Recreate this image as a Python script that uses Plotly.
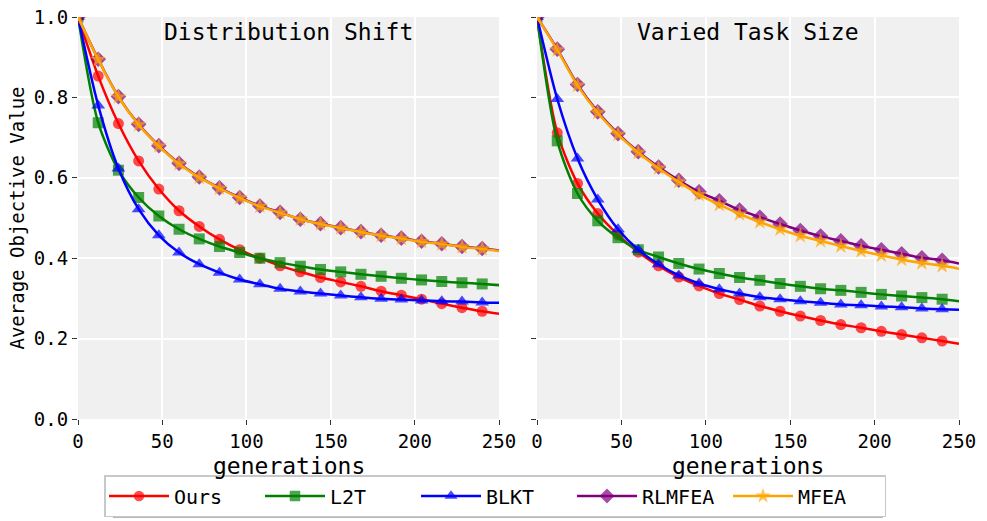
import plotly.graph_objects as go

generations = [0, 12, 24, 36, 48, 60, 72, 84, 96, 108, 120, 132, 144, 156, 168,
               180, 192, 204, 216, 228, 240, 250]

methods = ["Ours", "L2T", "BLKT", "RLMFEA", "MFEA"]

# Distribution Shift panel
ds_ours = [1.0, 0.853, 0.735, 0.642, 0.572, 0.518, 0.479, 0.447, 0.421, 0.400, 0.381,
           0.366, 0.352, 0.341, 0.330, 0.318, 0.308, 0.298, 0.287, 0.277, 0.268, 0.262]
ds_l2t = [1.0, 0.737, 0.619, 0.551, 0.505, 0.472, 0.448, 0.429, 0.414, 0.400, 0.389,
          0.380, 0.372, 0.366, 0.360, 0.355, 0.350, 0.346, 0.342, 0.339, 0.336, 0.333]
ds_blkt = [1.0, 0.780, 0.623, 0.522, 0.457, 0.414, 0.385, 0.364, 0.347, 0.335, 0.324,
           0.317, 0.312, 0.307, 0.303, 0.299, 0.297, 0.295, 0.293, 0.292, 0.290, 0.289]
ds_rlmfea = [1.0, 0.895, 0.802, 0.733, 0.680, 0.636, 0.602, 0.575, 0.551, 0.530, 0.514,
             0.497, 0.486, 0.476, 0.466, 0.457, 0.450, 0.442, 0.436, 0.429, 0.424, 0.419]
ds_mfea = [1.0, 0.894, 0.801, 0.732, 0.679, 0.635, 0.601, 0.574, 0.550, 0.529, 0.513,
           0.497, 0.485, 0.475, 0.465, 0.456, 0.449, 0.441, 0.435, 0.428, 0.423, 0.418]

# Varied Task Size panel
vt_ours = [1.0, 0.712, 0.586, 0.511, 0.458, 0.415, 0.381, 0.353, 0.331, 0.312, 0.297,
           0.281, 0.268, 0.256, 0.245, 0.235, 0.227, 0.218, 0.210, 0.202, 0.194, 0.187]
vt_l2t = [1.0, 0.692, 0.561, 0.493, 0.451, 0.421, 0.403, 0.387, 0.373, 0.362, 0.352,
          0.345, 0.337, 0.330, 0.324, 0.320, 0.315, 0.310, 0.306, 0.302, 0.298, 0.293]
vt_blkt = [1.0, 0.796, 0.648, 0.546, 0.472, 0.421, 0.385, 0.357, 0.337, 0.323, 0.312,
           0.303, 0.298, 0.293, 0.289, 0.285, 0.283, 0.280, 0.278, 0.275, 0.273, 0.272]
vt_rlmfea = [1.0, 0.920, 0.832, 0.764, 0.710, 0.665, 0.627, 0.594, 0.565, 0.543, 0.520,
             0.502, 0.485, 0.469, 0.455, 0.443, 0.431, 0.421, 0.411, 0.401, 0.395, 0.387]
vt_mfea = [1.0, 0.918, 0.830, 0.762, 0.708, 0.663, 0.624, 0.590, 0.558, 0.533, 0.510,
           0.490, 0.472, 0.456, 0.443, 0.430, 0.418, 0.407, 0.397, 0.388, 0.381, 0.374]

panel_titles = ["Distribution Shift", "Varied Task Size"]
x_label = "generations"
y_label = "Average Objective Value"
x_ticks = [0, 50, 100, 150, 200, 250]
y_ticks = [0.0, 0.2, 0.4, 0.6, 0.8, 1.0]

colors = ["#ff0000", "#008000", "#0000ff", "#800080", "#ffa500"]
symbols = ["circle", "square", "triangle-up", "diamond", "star"]
FONT = "DejaVu Sans Mono"

panels = [
    [ds_ours, ds_l2t, ds_blkt, ds_rlmfea, ds_mfea],
    [vt_ours, vt_l2t, vt_blkt, vt_rlmfea, vt_mfea],
]

base_size = {"circle": 11, "square": 11, "triangle-up": 12, "diamond": 12, "star": 12}

fig = go.Figure()
for p, series in enumerate(panels):
    xa = "x" if p == 0 else "x2"
    ya = "y" if p == 0 else "y2"
    for i, (name, vals) in enumerate(zip(methods, series)):
        # markers every 12 generations; the final point (250) is line-only
        sizes = [base_size[symbols[i]]] * (len(generations) - 1) + [0]
        fig.add_trace(go.Scatter(
            x=generations, y=vals, name=name, xaxis=xa, yaxis=ya,
            mode="lines+markers",
            line=dict(color=colors[i], width=2.5, shape="spline", smoothing=0.8),
            marker=dict(color=colors[i], symbol=symbols[i], size=sizes,
                        line=dict(width=0)),
            showlegend=(p == 0), legendgroup=name,
        ))

axis_common = dict(
    showgrid=True, gridcolor="white", gridwidth=1.5, zeroline=False,
    showline=False, ticks="outside", ticklen=5, tickcolor="#333333",
    tickfont=dict(family=FONT, size=19, color="black"), automargin=False,
)

W, H = 987, 521
ML, MR, MT, MB = 78, 28, 17, 102
PW, PH = W - ML - MR, H - MT - MB

# legend box in pixels (from the reference)
LG_L, LG_R, LG_T, LG_B = 110, 880, 475, 515
SH = 3  # shadow offset
XLABEL_TOP = 451  # pixel row where the x-axis label box starts

fig.update_layout(
    width=W, height=H,
    margin=dict(l=ML, r=MR, t=MT, b=MB),
    paper_bgcolor="white", plot_bgcolor="#f0f0f0",
    font=dict(family=FONT, color="black"),
    xaxis=dict(domain=[0, 0.4779], range=[0, 250], tickvals=x_ticks, **axis_common),
    xaxis2=dict(domain=[0.521, 1.0], range=[0, 250], tickvals=x_ticks, **axis_common),
    yaxis=dict(range=[0, 1], tickvals=y_ticks, tickformat=".1f", anchor="x",
               title=dict(text=y_label, font=dict(family=FONT, size=19), standoff=4),
               **axis_common),
    yaxis2=dict(range=[0, 1], tickvals=y_ticks, showticklabels=False, anchor="x2",
                **axis_common),
    legend=dict(orientation="h",
                xref="container", x=(LG_L + LG_R) / 2 / W, xanchor="center",
                yref="container", y=1 - LG_T / H, yanchor="top",
                font=dict(family=FONT, size=20), bgcolor="white",
                bordercolor="#c8c8c8", borderwidth=1.5,
                entrywidth=81, entrywidthmode="pixels", itemwidth=60),
)

# soft shadow behind the legend box
fig.add_shape(
    type="rect", xref="paper", yref="paper", layer="above",
    x0=(LG_L + SH - ML) / PW, x1=(LG_R + SH - ML) / PW,
    y0=(MT + PH - (LG_B + SH)) / PH, y1=(MT + PH - (LG_T + SH)) / PH,
    fillcolor="#b8b8b8", line=dict(width=0),
)

for p, t in enumerate(panel_titles):
    xd = "x domain" if p == 0 else "x2 domain"
    fig.add_annotation(
        text=t, showarrow=False, xref=xd,
        yref=("y domain" if p == 0 else "y2 domain"),
        x=0.5, y=1.0, xanchor="center", yanchor="top",
        font=dict(family=FONT, size=23, color="black"),
    )
    fig.add_annotation(
        text=x_label, showarrow=False, xref=xd, yref="paper",
        x=0.5, y=(MT + PH - XLABEL_TOP) / PH, xanchor="center", yanchor="top",
        font=dict(family=FONT, size=23, color="black"),
    )

fig.write_html(
    "out.html",
    config={"displayModeBar": False},
    post_script="document.body.style.margin='0';document.body.style.overflow='hidden';",
)
